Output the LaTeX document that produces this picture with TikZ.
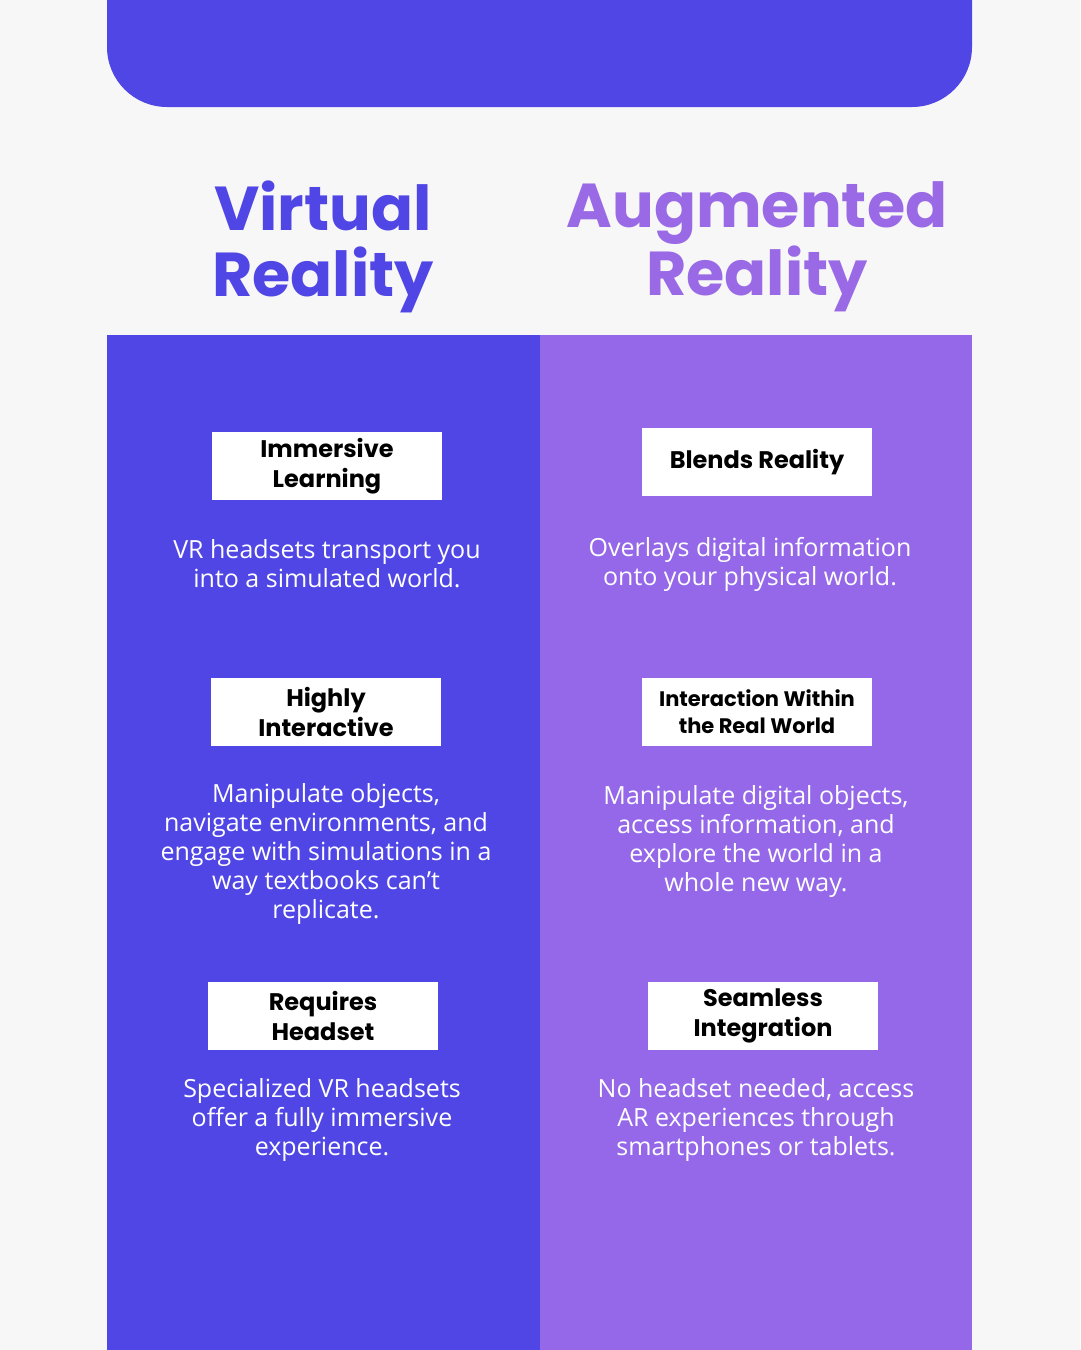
\documentclass[tikz,border=0pt]{standalone}
\usepackage{fontspec}
\setmainfont{Open Sans}
\newfontfamily\pop{Poppins}
\definecolor{bg}{HTML}{F7F7F7}
\definecolor{vr}{HTML}{4F46E5}
\definecolor{ar}{HTML}{9468E8}
\definecolor{artitle}{HTML}{9A6AE6}
\tikzset{
  lbl/.style={fill=white,minimum width=230pt,minimum height=68pt,align=center,inner sep=0pt,font=\pop\bfseries\fontsize{24}{30}\selectfont,text=black},
  body/.style={align=center,text=white,font=\fontsize{25}{29}\selectfont},
  ttl/.style={align=center,font=\pop\bfseries\fontsize{62}{66}\selectfont}
}
\begin{document}
\begin{tikzpicture}[x=1pt,y=-1pt]
\useasboundingbox (0,0) rectangle (1080,1350);
\fill[bg] (0,0) rectangle (1080,1350);
\fill[vr] (107,0) -- (107,47) arc[start angle=180,end angle=90,radius=60] -- (912,107) arc[start angle=90,end angle=0,radius=60] -- (972,0) -- cycle;
\fill[vr] (107,335) rectangle (540,1350);
\fill[ar] (540,335) rectangle (972,1350);
\node[ttl,text=vr] (tvr) at (323,247) {Virtual\\Reality};
\node[ttl,text=artitle] (tar) at (757,247) {Augmented\\Reality};
\node[lbl] (l1) at (327,466) {Immersive\\Learning};
\node[lbl] (r1) at (757,462) {Blends Reality};
\node[lbl] (l2) at (326,712) {Highly\\Interactive};
\node[lbl,font=\pop\bfseries\fontsize{21}{27}\selectfont] (r2) at (757,712) {Interaction Within\\the Real World};
\node[lbl] (l3) at (323,1016) {Requires\\Headset};
\node[lbl] (r3) at (763,1016) {Seamless\\Integration};
\node[body] (b1) at (327,564) {VR headsets transport you\\into a simulated world.};
\node[body] (c1) at (750,564) {Overlays digital information\\onto your physical world.};
\node[body] (b2) at (326,854) {Manipulate objects,\\navigate environments, and\\engage with simulations in a\\way textbooks can't\\replicate.};
\node[body] (c2) at (756,841) {Manipulate digital objects,\\access information, and\\explore the world in a\\whole new way.};
\node[body] (b3) at (322,1120) {Specialized VR headsets\\offer a fully immersive\\experience.};
\node[body] (c3) at (756,1120) {No headset needed, access\\AR experiences through\\smartphones or tablets.};
\end{tikzpicture}
\end{document}
